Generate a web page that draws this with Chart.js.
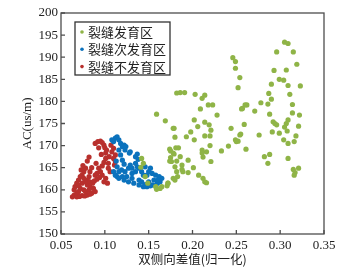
<!DOCTYPE html>
<html>
<head>
<meta charset="utf-8">
<script src="https://cdn.jsdelivr.net/npm/chart.js@4/dist/chart.umd.min.js"></script>
<style>
  html, body { margin: 0; padding: 0; background: #fff; }
  #wrap { width: 356px; height: 269px; }
</style>
</head>
<body>
<div id="wrap"><canvas id="acChart" width="356" height="269"></canvas></div>
<script>
const seriesNames = ['裂缝发育区', '裂缝次发育区', '裂缝不发育区'];
const seriesColors = ['#8fb447', '#0b72bd', '#b8302d'];
const xTicks = [0.05, 0.10, 0.15, 0.20, 0.25, 0.30, 0.35];
const yTicks = [150, 155, 160, 165, 170, 175, 180, 185, 190, 195, 200];

// 裂缝发育区 [x, y]
const developedPts = [
  [0.182,181.9],[0.186,182.0],[0.191,182.0],[0.203,181.6],[0.214,181.4],[0.211,180.7],[0.218,179.2],[0.223,179.2],
  [0.209,178.3],[0.159,177.1],[0.228,176.9],[0.169,175.6],[0.202,175.8],[0.214,175.3],[0.206,174.3],[0.219,174.7],
  [0.221,173.5],[0.179,173.9],[0.244,173.9],[0.198,173.1],[0.180,171.9],[0.193,172.0],[0.202,171.3],[0.214,172.2],
  [0.220,172.2],[0.220,170.0],[0.181,169.5],[0.184,169.5],[0.211,169.0],[0.216,168.6],[0.233,168.8],[0.241,169.9],
  [0.179,168.1],[0.186,167.5],[0.211,168.3],[0.212,167.4],[0.174,166.5],[0.182,166.5],[0.195,166.7],[0.221,166.4],
  [0.188,165.6],[0.188,164.6],[0.201,165.0],[0.183,163.0],[0.180,162.2],[0.195,163.9],[0.207,163.3],[0.212,162.6],
  [0.214,161.8],[0.216,161.6],[0.172,161.5],[0.171,160.9],
  [0.142,167.1],[0.141,165.1],[0.146,163.0],[0.149,161.5],[0.158,160.7],[0.165,160.7],[0.172,161.5],[0.175,167.3],
  [0.178,173.9],[0.174,169.2],[0.175,168.8],[0.178,168.3],[0.176,166.4],[0.180,165.2],[0.182,164.1],[0.189,164.1],
  [0.144,166.0],[0.163,160.3],[0.159,160.1],[0.178,162.6],
  [0.246,189.9],[0.249,189.0],[0.249,187.5],[0.254,185.4],[0.252,183.1],[0.260,179.2],[0.256,178.3],[0.254,172.4],
  [0.249,171.3],[0.252,171.0],
  [0.305,193.4],[0.309,193.1],[0.296,191.2],[0.315,191.2],[0.319,188.4],[0.293,187.0],[0.307,187.1],[0.299,185.0],
  [0.304,184.8],[0.290,183.9],[0.309,183.6],[0.323,183.5],[0.287,181.8],[0.311,181.6],[0.290,180.5],[0.286,179.4],
  [0.314,179.3],[0.278,179.7],[0.271,177.8],[0.262,179.2],[0.257,178.4],[0.288,177.1],[0.314,177.4],[0.322,176.9],
  [0.292,175.4],[0.294,175.0],[0.296,174.7],[0.309,175.8],[0.307,175.0],[0.305,174.2],[0.321,174.4],[0.259,174.8],
  [0.291,173.1],[0.299,172.8],[0.308,173.3],[0.318,172.2],[0.276,172.4],[0.255,172.6],[0.250,170.9],[0.304,171.3],
  [0.309,170.5],[0.316,170.9],[0.261,169.2],[0.282,167.5],[0.288,168.0],[0.286,166.0],[0.309,167.1],[0.315,164.6],
  [0.321,164.9],[0.317,163.9],[0.316,163.3]
];

// 裂缝次发育区 [x, y]
const subDevelopedPts = [
  [0.112,171.7],[0.114,172.0],[0.116,171.3],[0.110,170.9],[0.108,171.3],[0.118,170.5],[0.120,169.8],[0.123,169.0],
  [0.122,170.1],[0.129,168.6],[0.135,167.5],[0.116,169.0],[0.118,167.9],[0.120,166.7],[0.122,165.8],[0.114,165.2],
  [0.116,164.1],[0.114,163.0],[0.116,162.6],[0.110,164.1],[0.112,163.3],
  [0.123,164.1],[0.127,164.9],[0.129,165.6],[0.131,164.9],[0.131,163.7],[0.135,164.1],[0.137,165.2],[0.139,164.9],
  [0.142,164.1],[0.144,163.3],[0.148,163.3],[0.150,164.1],[0.152,164.9],[0.154,163.7],[0.158,163.3],[0.162,163.0],
  [0.165,162.6],[0.163,161.8],[0.160,161.5],[0.154,161.1],[0.148,160.7],[0.144,160.7],[0.139,161.1],[0.133,161.5],
  [0.127,161.8],[0.122,162.2],[0.120,163.0],[0.125,163.0],[0.131,162.6],[0.139,162.2],[0.142,161.8],[0.150,161.8],
  [0.156,162.2],[0.138,166.9],[0.135,166.0],[0.146,165.2],[0.137,168.1],[0.128,168.3],[0.124,169.8],[0.152,160.9],
  [0.158,161.0],[0.161,162.3],[0.146,161.2],[0.119,164.5],[0.113,166.5]
];

// 裂缝不发育区 [x, y]
const undevelopedPts = [
  [0.089,170.5],[0.092,170.9],[0.095,171.0],[0.097,170.7],[0.099,170.1],[0.100,169.5],[0.102,169.0],[0.101,168.3],
  [0.107,170.1],[0.110,169.4],[0.108,168.6],[0.112,167.9],[0.110,167.1],[0.112,166.4],[0.111,165.6],
  [0.082,167.4],[0.101,167.1],[0.099,166.2],[0.097,165.4],[0.104,166.0],[0.104,164.9],[0.106,164.1],
  [0.093,164.9],[0.095,164.1],[0.091,163.7],[0.089,163.3],[0.097,163.3],[0.101,162.6],[0.099,161.8],[0.103,161.5],
  [0.083,164.1],[0.082,163.0],[0.080,162.2],
  [0.072,163.0],[0.074,163.3],[0.076,162.6],[0.070,162.2],[0.068,161.5],[0.066,160.7],[0.065,160.0],[0.065,158.8],
  [0.063,158.4],[0.068,158.4],[0.074,158.7],[0.080,158.8],[0.085,159.2],[0.089,159.6],[0.087,160.3],[0.083,160.7],
  [0.080,161.1],[0.078,161.8],[0.074,161.5],[0.072,160.3],[0.076,160.0],[0.070,159.6],[0.068,159.2],[0.078,159.6],
  [0.082,160.0],[0.083,161.8],[0.076,164.1],[0.078,164.9],
  [0.071,158.5],[0.077,158.6],[0.083,159.0],[0.086,161.5],[0.091,162.4],[0.094,162.8],[0.088,162.0],[0.070,161.0],
  [0.073,164.5],[0.075,165.5],[0.080,166.5],[0.085,165.0],[0.090,166.0],[0.096,168.0],[0.093,169.5],[0.105,167.5]
];

const allSeries = [developedPts, subDevelopedPts, undevelopedPts];

const serif = "'Liberation Serif', 'Times New Roman', serif";
const cjk = "'Noto Sans CJK SC', 'Liberation Serif', serif";

// box round the plot + ticks pointing inward + legend inside the plot
const framePlugin = {
  id: 'frame',
  afterDatasetsDraw(chart) {
    const ctx = chart.ctx;
    const a = chart.chartArea;
    const xs = chart.scales.x, ys = chart.scales.y;
    ctx.save();
    ctx.strokeStyle = '#4d4d4d';
    ctx.lineWidth = 1.3;
    ctx.strokeRect(a.left, a.top, a.right - a.left, a.bottom - a.top);
    ctx.beginPath();
    xTicks.forEach(v => {
      const px = xs.getPixelForValue(v);
      ctx.moveTo(px, a.bottom); ctx.lineTo(px, a.bottom - 4);
    });
    yTicks.forEach(v => {
      const py = ys.getPixelForValue(v);
      ctx.moveTo(a.left, py); ctx.lineTo(a.left + 4, py);
    });
    ctx.stroke();

    // legend
    const bx = a.left + 14, by = a.top + 9, bw = 95, bh = 53;
    ctx.fillStyle = '#fff';
    ctx.fillRect(bx, by, bw, bh);
    ctx.strokeStyle = '#333';
    ctx.lineWidth = 1.3;
    ctx.strokeRect(bx, by, bw, bh);
    ctx.font = '13px ' + cjk;
    ctx.textBaseline = 'middle';
    chart.data.datasets.forEach((ds, i) => {
      const cy = by + 10 + i * 17.3;
      ctx.fillStyle = ds.backgroundColor;
      ctx.beginPath();
      ctx.arc(bx + 7, cy, 1.8, 0, Math.PI * 2);
      ctx.fill();
      ctx.fillStyle = '#222';
      ctx.fillText(ds.label, bx + 13, cy);
    });
    ctx.restore();
  }
};

new Chart(document.getElementById('acChart').getContext('2d'), {
  type: 'scatter',
  data: {
    datasets: seriesNames.map((name, i) => ({
      label: name,
      data: allSeries[i].map(p => ({ x: p[0], y: p[1] })),
      backgroundColor: seriesColors[i],
      borderWidth: 0,
      pointRadius: 2.6
    }))
  },
  options: {
    responsive: false,
    animation: false,
    layout: { padding: { left: 0, top: 13, right: 32, bottom: 0 } },
    plugins: { legend: { display: false }, tooltip: { enabled: false } },
    scales: {
      x: {
        type: 'linear',
        min: 0.05, max: 0.35,
        afterFit: s => { s.height = 35; },
        afterBuildTicks: s => { s.ticks = xTicks.map(v => ({ value: v })); },
        grid: { display: false, drawTicks: false },
        border: { display: false },
        ticks: {
          padding: 4,
          color: '#222',
          font: { family: serif, size: 13 },
          callback: v => Number(v).toFixed(2)
        },
        title: {
          display: true,
          text: '双侧向差值(归一化)',
          color: '#222',
          font: { family: cjk, size: 12.5 },
          padding: { top: 0, bottom: 2 }
        }
      },
      y: {
        min: 150, max: 200,
        afterFit: s => { s.width = 61; },
        afterBuildTicks: s => { s.ticks = yTicks.map(v => ({ value: v })); },
        grid: { display: false, drawTicks: false },
        border: { display: false },
        ticks: {
          padding: 3,
          color: '#222',
          font: { family: serif, size: 13 }
        },
        title: {
          display: true,
          text: 'AC(us/m)',
          color: '#222',
          font: { family: serif, size: 13 },
          padding: { top: 20, bottom: 0 }
        }
      }
    }
  },
  plugins: [framePlugin]
});
</script>
</body>
</html>
